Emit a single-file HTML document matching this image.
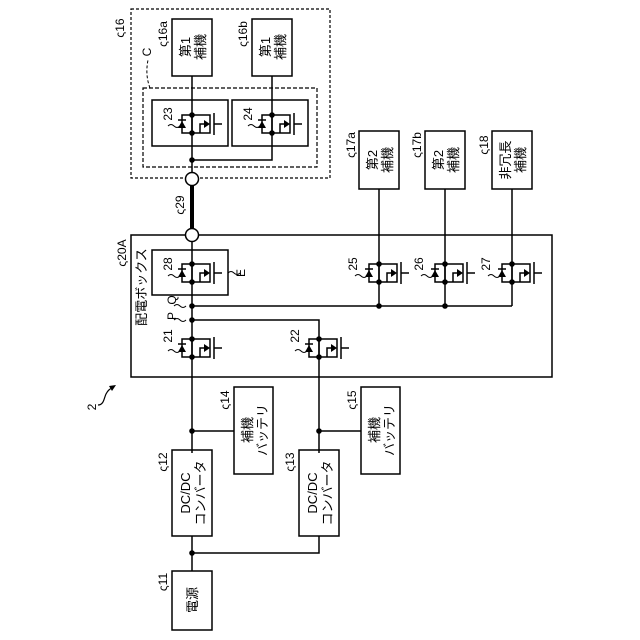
<!DOCTYPE html>
<html><head><meta charset="utf-8"><style>
html,body{margin:0;padding:0;background:#fff;}
svg{display:block;}
text{font-family:"Liberation Sans","Noto Sans CJK JP",sans-serif;fill:#000;}
</style></head><body>
<svg width="640" height="640" viewBox="0 0 640 640" xmlns="http://www.w3.org/2000/svg">
<defs>
<g id="tr" stroke="#000" stroke-width="1.5" fill="none">
  <path d="M0,-9 V9"/>
  <path d="M0,-9 H18 V9 H0"/>
  <path d="M8,9 V0 H14"/>
  <polygon points="18,0 12,-4 12,4" fill="#000" stroke="none"/>
  <path d="M22,-11 V11 M22,0 H30"/>
  <path d="M0,-9 H-10 V9 H0"/>
  <polygon points="-14,4 -6,4 -10,-3" fill="#000" stroke="none"/>
  <path d="M-14,-4 H-6"/>
  <circle cx="0" cy="-9" r="2.8" fill="#000" stroke="none"/>
  <circle cx="0" cy="9" r="2.8" fill="#000" stroke="none"/>
</g>
</defs>
<g stroke="#000" stroke-width="1.5" fill="none">
  <!-- dashed boxes -->
  <rect x="131" y="9" width="199" height="169" stroke-dasharray="3,2" stroke-width="1.2"/>
  <rect x="143" y="88" width="174" height="79" stroke-dasharray="4,2" stroke-width="1.2"/>
  <path d="M150,88 Q145,75 148,60" stroke-dasharray="3,2" stroke-width="1"/>
  <!-- 16a 16b -->
  <rect x="172" y="19" width="40" height="57"/>
  <rect x="252" y="19" width="40" height="57"/>
  <rect x="152" y="100" width="76" height="46"/>
  <rect x="232" y="100" width="76" height="46"/>
  <path d="M192,76 V172 M272,76 V160 H192"/>
  <!-- bus -->
  <path d="M192,186 V228" stroke-width="4"/>
  <circle cx="192" cy="179" r="6.5" fill="#fff"/>
  <circle cx="192" cy="235" r="6.5" fill="#fff"/>
  <!-- main box -->
  <path d="M185,235 H131 V377 H552 V235 H199"/>
  <rect x="152" y="250" width="76" height="45"/>
  <path d="M192,242 V453"/>
  <path d="M192,306 H512 M192,320 H319 V453"/>
  <!-- second aux -->
  <rect x="359" y="131" width="40" height="58"/>
  <rect x="425" y="131" width="40" height="58"/>
  <rect x="492" y="131" width="40" height="58"/>
  <path d="M379,189 V306 M445,189 V306 M512,189 V306"/>
  <!-- batteries -->
  <rect x="234" y="387" width="39" height="87"/>
  <rect x="361" y="387" width="39" height="87"/>
  <path d="M192,431 H234 M319,431 H361"/>
  <!-- DCDC -->
  <rect x="172" y="450" width="40" height="86"/>
  <rect x="299" y="450" width="40" height="86"/>
  <path d="M192,536 V571 M192,553 H319 V536"/>
  <rect x="172" y="571" width="40" height="59"/>
  <!-- 2 arrow -->
  <path d="M98,405 C104,405 104,398 106,394 C108,390 110,389 112,388" stroke-width="1.2"/>
</g>
<polygon points="116,385 109,386 112,391" fill="#000"/>
<g fill="#000">
  <circle cx="192" cy="160" r="2.8"/>
  <circle cx="192" cy="306" r="2.8"/>
  <circle cx="192" cy="320" r="2.8"/>
  <circle cx="379" cy="306" r="2.8"/>
  <circle cx="445" cy="306" r="2.8"/>
  <circle cx="192" cy="431" r="2.8"/>
  <circle cx="319" cy="431" r="2.8"/>
  <circle cx="192" cy="553" r="2.8"/>
</g>
<use href="#tr" x="192" y="124"/>
<use href="#tr" x="272" y="124"/>
<use href="#tr" x="192" y="273"/>
<use href="#tr" x="192" y="348"/>
<use href="#tr" x="319" y="348"/>
<use href="#tr" x="379" y="273"/>
<use href="#tr" x="445" y="273"/>
<use href="#tr" x="512" y="273"/>
<!-- squiggle leaders -->
<g stroke="#000" stroke-width="1" fill="none">
  <path d="M168,126 q3,-3 6,0 q3,3 6,0"/>
  <path d="M248,126 q3,-3 6,0 q3,3 6,0"/>
  <path d="M168,276 q3,-3 6,0 q3,3 6,0"/>
  <path d="M168,351 q3,-3 6,0 q3,3 6,0"/>
  <path d="M295,351 q3,-3 6,0 q3,3 6,0"/>
  <path d="M355,276 q3,-3 6,0 q3,3 6,0"/>
  <path d="M421,276 q3,-3 6,0 q3,3 6,0"/>
  <path d="M488,276 q3,-3 6,0 q3,3 6,0"/>
  <path d="M174,306 q3,-3 6,0 q3,3 6,0"/>
  <path d="M174,320 q3,-3 6,0 q3,3 6,0"/>
  <path d="M228,273 q3,-3 6,0 q3,3 6,0"/>
</g>
<g font-size="12">
  <text transform="translate(124,28) rotate(-90)" text-anchor="middle">ς16</text>
  <text transform="translate(151,52) rotate(-90)" text-anchor="middle">C</text>
  <text transform="translate(167,34) rotate(-90)" text-anchor="middle">ς16a</text>
  <text transform="translate(247,34) rotate(-90)" text-anchor="middle">ς16b</text>
  <text transform="translate(172,114) rotate(-90)" text-anchor="middle">23</text>
  <text transform="translate(252,114) rotate(-90)" text-anchor="middle">24</text>
  <text transform="translate(184,205) rotate(-90)" text-anchor="middle">ς29</text>
  <text transform="translate(126,253) rotate(-90)" text-anchor="middle">ς20A</text>
  <text transform="translate(172,264) rotate(-90)" text-anchor="middle">28</text>
  <text transform="translate(245,273) rotate(-90)" text-anchor="middle">E</text>
  <text transform="translate(176,300) rotate(-90)" text-anchor="middle">Q</text>
  <text transform="translate(176,316) rotate(-90)" text-anchor="middle">P</text>
  <text transform="translate(172,336) rotate(-90)" text-anchor="middle">21</text>
  <text transform="translate(299,336) rotate(-90)" text-anchor="middle">22</text>
  <text transform="translate(357,264) rotate(-90)" text-anchor="middle">25</text>
  <text transform="translate(423,264) rotate(-90)" text-anchor="middle">26</text>
  <text transform="translate(490,264) rotate(-90)" text-anchor="middle">27</text>
  <text transform="translate(355,145) rotate(-90)" text-anchor="middle">ς17a</text>
  <text transform="translate(421,145) rotate(-90)" text-anchor="middle">ς17b</text>
  <text transform="translate(488,145) rotate(-90)" text-anchor="middle">ς18</text>
  <text transform="translate(229,400) rotate(-90)" text-anchor="middle">ς14</text>
  <text transform="translate(356,400) rotate(-90)" text-anchor="middle">ς15</text>
  <text transform="translate(167,462) rotate(-90)" text-anchor="middle">ς12</text>
  <text transform="translate(294,462) rotate(-90)" text-anchor="middle">ς13</text>
  <text transform="translate(167,582) rotate(-90)" text-anchor="middle">ς11</text>
  <text transform="translate(96,407) rotate(-90)" text-anchor="middle">2</text>
</g>
<g font-size="13">
  <text transform="translate(146,287) rotate(-90)" text-anchor="middle">配電ボックス</text>
  <text transform="translate(190,47) rotate(-90)" text-anchor="middle">第1</text>
  <text transform="translate(205,47) rotate(-90)" text-anchor="middle">補機</text>
  <text transform="translate(270,47) rotate(-90)" text-anchor="middle">第1</text>
  <text transform="translate(285,47) rotate(-90)" text-anchor="middle">補機</text>
  <text transform="translate(377,160) rotate(-90)" text-anchor="middle">第2</text>
  <text transform="translate(392,160) rotate(-90)" text-anchor="middle">補機</text>
  <text transform="translate(443,160) rotate(-90)" text-anchor="middle">第2</text>
  <text transform="translate(458,160) rotate(-90)" text-anchor="middle">補機</text>
  <text transform="translate(510,160) rotate(-90)" text-anchor="middle">非冗長</text>
  <text transform="translate(525,160) rotate(-90)" text-anchor="middle">補機</text>
  <text transform="translate(252,430) rotate(-90)" text-anchor="middle">補機</text>
  <text transform="translate(267,430) rotate(-90)" text-anchor="middle">バッテリ</text>
  <text transform="translate(379,430) rotate(-90)" text-anchor="middle">補機</text>
  <text transform="translate(394,430) rotate(-90)" text-anchor="middle">バッテリ</text>
  <text transform="translate(190,493) rotate(-90)" text-anchor="middle">DC/DC</text>
  <text transform="translate(205,493) rotate(-90)" text-anchor="middle">コンバータ</text>
  <text transform="translate(317,493) rotate(-90)" text-anchor="middle">DC/DC</text>
  <text transform="translate(332,493) rotate(-90)" text-anchor="middle">コンバータ</text>
  <text transform="translate(197,600) rotate(-90)" text-anchor="middle">電源</text>
</g>
</svg>
</body></html>
